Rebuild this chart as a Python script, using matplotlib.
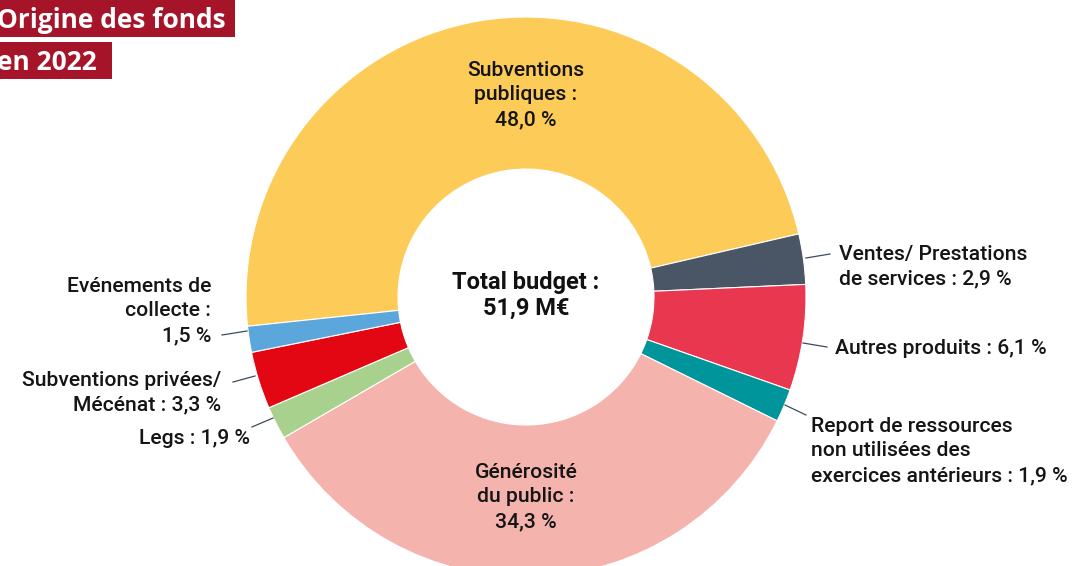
import matplotlib
matplotlib.use("Agg")
import matplotlib.pyplot as plt
from matplotlib.patches import Rectangle

categories = ["Subventions publiques", "Ventes/ Prestations de services", "Autres produits",
              "Report de ressources non utilisées des exercices antérieurs",
              "Générosité du public", "Legs", "Subventions privées/ Mécénat",
              "Evénements de collecte"]
values = [48.0, 2.9, 6.1, 1.9, 34.3, 1.9, 3.3, 1.5]
colors = ["#FDCB58", "#4A5565", "#E8374F", "#00959A", "#F5B3AE", "#A8D18D", "#E30613", "#5BA7DC"]
labels_text = ["Subventions\npubliques :\n48,0 %", "Ventes/ Prestations\nde services : 2,9 %",
               "Autres produits : 6,1 %",
               "Report de ressources\nnon utilisées des\nexercices antérieurs : 1,9 %",
               "Générosité\ndu public :\n34,3 %", "Legs : 1,9 %",
               "Subventions privées/\nMécénat : 3,3 %", "Evénements de\ncollecte :\n1,5 %"]
title_lines = ["Origine des fonds", "en 2022"]
total_label = "Total budget :\n51,9 M€"

W, H = 1073, 566
fig = plt.figure(figsize=(W / 100, H / 100), dpi=100)
ax = fig.add_axes([0, 0, 1, 1])

def Y(y):
    return H - y

cx, cy, R, r = 526, 297, 280, 128
ax.pie(values, colors=colors, startangle=186, counterclock=False, center=(cx, Y(cy)),
       radius=R, wedgeprops=dict(width=R - r, edgecolor="white", linewidth=0.8), frame=True)
ax.set_xlim(0, W)
ax.set_ylim(0, H)
ax.set_aspect("equal")
ax.axis("off")

font = "Roboto"
fs = 15.2
fw = "medium"
ls = 1.36
lc = "#3d4a5c"
tc = "#151515"

# inside labels
ax.text(cx, Y(95), labels_text[0], ha="center", va="center", fontsize=fs, family=font,
        fontweight=fw, color=tc, linespacing=ls)
ax.text(cx, Y(497), labels_text[4], ha="center", va="center", fontsize=fs, family=font,
        fontweight=fw, color=tc, linespacing=ls)
ax.text(cx, Y(295), total_label, ha="center", va="center", fontsize=17, family=font,
        fontweight="bold", color="#111111", linespacing=1.15)

# outside labels with leader lines
leaders = [
    (1, (806, 258), (830, 254), (839, 267), "left"),
    (2, (803, 343), (827, 347), (835, 349), "left"),
    (3, (785, 405), (806, 415), (811, 451), "left"),
    (5, (273, 418), (252, 427), (250, 438), "right"),
    (6, (255, 376), (233, 382), (221, 393), "right"),
    (7, (247, 331), (222, 335), (211, 311), "right"),
]
for idx, p0, p1, tp, ha in leaders:
    ax.plot([p0[0], p1[0]], [Y(p0[1]), Y(p1[1])], color=lc, lw=0.9)
    ax.text(tp[0], Y(tp[1]), labels_text[idx], ha=ha, va="center", fontsize=fs,
            family=font, fontweight=fw, color=tc, linespacing=ls, multialignment=ha)

# title boxes
red = "#A51429"
ax.add_patch(Rectangle((0, Y(37)), 235, 37, color=red, lw=0))
ax.add_patch(Rectangle((0, Y(79)), 112, 37, color=red, lw=0))
ax.text(-3, Y(20), title_lines[0], ha="left", va="center", fontsize=19, family="Open Sans",
        fontweight="bold", color="white")
ax.text(-3, Y(62), title_lines[1], ha="left", va="center", fontsize=19, family="Open Sans",
        fontweight="bold", color="white")

fig.savefig("out.png", dpi=100)
